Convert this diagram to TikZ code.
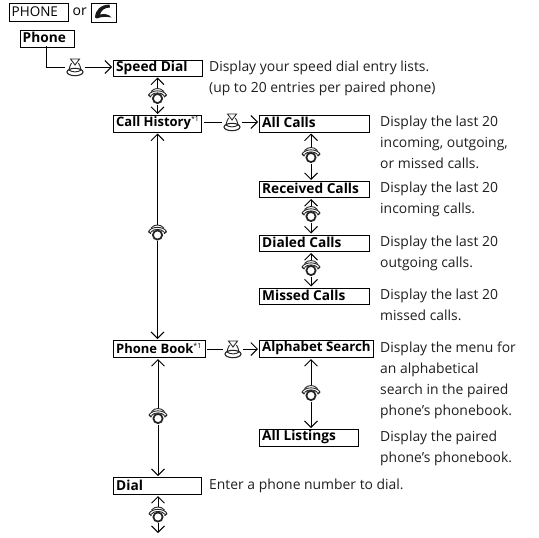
\documentclass[tikz,border=0pt]{standalone}
\usepackage{fontspec}
\setmainfont{Open Sans}
\usetikzlibrary{arrows.meta}
\tikzset{
  menubox/.style={draw,line width=1pt,anchor=north west,inner sep=0pt},
  desc/.style={anchor=north west,inner sep=0pt,align=left,font=\fontsize{13.9}{20.9}\selectfont,text=black!88},
  conn/.style={line width=0.9pt},
  link/.style={line width=0.9pt,shorten >=1pt,-{Straight Barb[length=6.5pt,width=13pt,line width=0.9pt]}},
  knobmark/.style={inner sep=0pt,minimum width=19pt,minimum height=18pt},
  rotmark/.style={inner sep=0pt,minimum width=18pt,minimum height=16pt},
  icon/.style={line width=0.9pt,black!85},
}
% box: name, x, y, w, h, text
\newcommand{\mbx}[6]{\node[menubox,minimum width=#4pt,minimum height=#5pt] (#1) at (#2,#3) {};
  \node[anchor=west,inner sep=0pt,font=\fontsize{13.7}{15}\selectfont\bfseries] (#1t) at (#2+3,#3+#5/2-0.3) {#6};}
\newcommand{\narrow}{\fontsize{13}{15}\selectfont}
\newcommand{\stnote}{\textsuperscript{\normalfont\fontsize{7}{7}\selectfont *1}}
\newcommand{\knob}[3]{\node[knobmark] (#1) at (#2,#3) {};
  \begin{scope}[shift={(#2,#3)},icon]
    \draw (-4.5,-8) -- (4.5,-8) -- (0,-2) -- cycle;
    \draw (-6,3) .. controls (-6.5,0) and (-4,-1) .. (-3.5,-4);
    \draw (6,3) .. controls (6.5,0) and (4,-1) .. (3.5,-4);
    \draw[line width=1.1pt] (0,5) ellipse (8 and 3.7);
    \draw (-6,3) .. controls (-3,5.5) and (3,5.5) .. (6,3);
  \end{scope}}
\newcommand{\rotary}[3]{\node[rotmark] (#1) at (#2,#3) {};
  \begin{scope}[shift={(#2,#3)},icon]
    \draw[line width=1.8pt] (0,2) circle (4.6);
    \draw (-9,-1.5) .. controls (-6,-7) and (6,-7) .. (9,-1.5);
    \draw (-6.5,-1) .. controls (-4,-4.5) and (4,-4.5) .. (6.5,-1);
    \draw[line width=1.4pt] (-9,-1.5) -- (-6.5,0.5); \draw[line width=1.4pt] (9,-1.5) -- (6.5,0.5);
    \draw (-6.5,-5) .. controls (-3,-9) and (3,-9) .. (6.5,-5);
  \end{scope}}
\begin{document}
\begin{tikzpicture}[x=1pt,y=-1pt]
\useasboundingbox (0,0) rectangle (539,538);
% top line
\node[draw,line width=1pt,anchor=north west,inner sep=0pt,minimum width=59pt,minimum height=17.5pt] (phonekey) at (8.5,3) {};
\node[anchor=west,inner sep=0pt,font=\fontsize{13.5}{15}\selectfont] (phonekeyt) at (11.5,11.5) {PHONE};
\node[anchor=west,inner sep=0pt,font=\fontsize{14}{15}\selectfont] (ortext) at (72.5,11.5) {or};
\node[draw,line width=1pt,anchor=north west,inner sep=0pt,minimum width=25pt,minimum height=19pt] (callkey) at (90.5,2.5) {};
\fill[black!90] (95,17.5) .. controls (95.5,10) and (100,5) .. (109.5,4.5)
  -- (110,7.5) .. controls (104,7.5) and (101,11) .. (100,14.5)
  .. controls (104,13.5) and (109,14) .. (111.5,17.5)
  .. controls (107,16.5) and (101,16.5) .. (97,18.5) -- cycle;
% boxes
\mbx{phone}{19.5}{29.5}{54}{17}{Phone}
\mbx{speed}{113}{60}{89}{15.5}{Speed Dial}
\mbx{history}{113}{115}{88}{16.5}{\narrow Call History\stnote}
\mbx{book}{113}{340}{92}{17}{\narrow Phone Book\stnote}
\mbx{dial}{113}{477}{88}{17}{Dial}
\mbx{allc}{259}{114.5}{110}{17}{All Calls}
\mbx{recv}{259}{181}{110}{16}{Received Calls}
\mbx{dialed}{259}{234.5}{110}{16.5}{Dialed Calls}
\mbx{missed}{259}{287.5}{110}{16.5}{Missed Calls}
\mbx{alpha}{259}{340}{114}{17}{\fontsize{13.3}{15}\selectfont Alphabet Search}
\mbx{listings}{259}{429}{99}{16.5}{All Listings}
% icons
\knob{k1}{75}{67}
\knob{k2}{232}{122}
\knob{k3}{233}{349}
\rotary{r1}{157.5}{96.5}
\rotary{r2}{157.5}{233}
\rotary{r3}{158}{416.5}
\rotary{r4}{158}{515}
\rotary{r5}{311}{155.5}
\rotary{r6}{311}{214.5}
\rotary{r7}{311}{268.5}
\rotary{r8}{311}{393.5}
\coordinate (bottomend) at (158,534);
\coordinate (phonedrop) at (46,46);
% connectors
\draw[conn] (phonedrop) |- (k1.west);
\draw[link] (k1.east) -- (k1.east -| speed.west);
\draw[conn] (k2.west -| history.east) ++(2,0) -- (k2.west);
\draw[link] (k2.east) -- (k2.east -| allc.west);
\draw[conn] (k3.west -| book.east) ++(1,0) -- (k3.west);
\draw[link] (k3.east) -- (k3.east -| alpha.west);
\foreach \r/\a/\b in {r1/speed/history,r2/history/book,r3/book/dial,r5/allc/recv,r6/recv/dialed,r7/dialed/missed,r8/alpha/listings}{
  \draw[link] (\r.north) -- (\r.north |- \a.south);
  \draw[link] (\r.south) -- (\r.south |- \b.north);
}
\draw[link] (r4.north) -- (r4.north |- dial.south);
\draw[link] (r4.south) -- (bottomend);
% descriptions
\node[desc] (d1) at (209,60.5) {Display your speed dial entry lists.\\(up to 20 entries per paired phone)};
\node[desc] (d2) at (380,115.5) {Display the last 20\\incoming, outgoing,\\or missed calls.};
\node[desc] (d3) at (380,182) {Display the last 20\\incoming calls.};
\node[desc] (d4) at (380,235.5) {Display the last 20\\outgoing calls.};
\node[desc] (d5) at (380,288.5) {Display the last 20\\missed calls.};
\node[desc] (d6) at (380,342) {Display the menu for\\an alphabetical\\search in the paired\\phone’s phonebook.};
\node[desc] (d7) at (380,430.5) {Display the paired\\phone’s phonebook.};
\node[desc] (d8) at (209,478.5) {Enter a phone number to dial.};
\end{tikzpicture}
\end{document}
